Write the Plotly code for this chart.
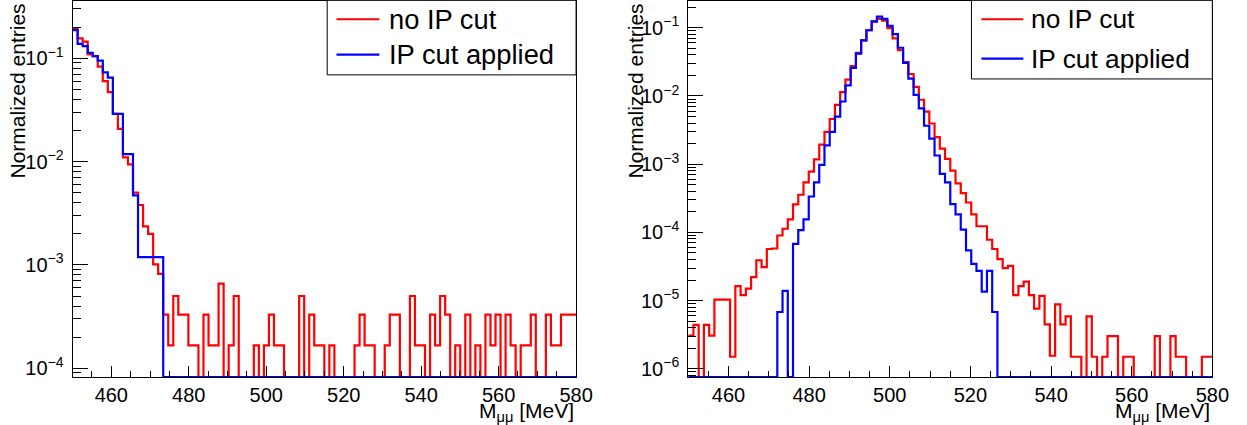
import numpy as np
import plotly.graph_objects as go

# ---------------- data ----------------
bin_lo, bin_hi, n_bins = 450.0, 580.0, 100

# Left panel: normalized entries per bin (100 bins, 450-580 MeV)
left_no_ip = [
    0.195, 0.156, 0.145, 0.109, 0.105, 0.083, 0.060, 0.047, 0.029, 0.0207,
    0.011, 0.0094, 0.005, 0.0038, 0.00236, 0.0020, 0.00101, 0.00082, 3.3e-4, 1.66e-4,
    5.0e-4, 3.3e-4, 3.3e-4, 1.66e-4, 1.66e-4, 0, 3.3e-4, 1.66e-4, 1.66e-4, 6.6e-4,
    0, 1.66e-4, 5.0e-4, 0, 0, 0, 1.66e-4, 0, 1.66e-4, 3.3e-4,
    1.66e-4, 1.66e-4, 0, 0, 0, 5.0e-4, 0, 3.3e-4, 1.66e-4, 1.66e-4,
    0, 1.66e-4, 0, 0, 0, 0, 1.66e-4, 3.3e-4, 1.66e-4, 1.66e-4,
    0, 0, 1.66e-4, 3.3e-4, 3.3e-4, 0, 0, 5.0e-4, 1.66e-4, 1.66e-4,
    0, 3.3e-4, 1.66e-4, 5.0e-4, 3.3e-4, 0, 1.66e-4, 0, 3.3e-4, 0,
    1.66e-4, 0, 3.3e-4, 1.66e-4, 3.3e-4, 0, 3.3e-4, 1.66e-4, 0, 1.66e-4,
    1.66e-4, 3.3e-4, 0, 0, 3.3e-4, 1.66e-4, 1.66e-4, 3.3e-4, 3.3e-4, 3.3e-4,
]
left_ip = [
    0.187, 0.138, 0.131, 0.113, 0.105, 0.095, 0.073, 0.065, 0.029, 0.029,
    0.0118, 0.0118, 0.0047, 0.00119, 0.00119, 0.00119, 0.00119, 0.00119, 0, 0,
] + [0] * 80

# Right panel
right_no_ip = [
    3.06e-6, 4.4e-6, 0, 4.4e-6, 3.06e-6, 1.03e-5, 1.03e-5, 1.03e-5, 1.5e-6, 1.63e-5,
    1.2e-5, 1.5e-5, 2.2e-5, 3.9e-5, 3.1e-5, 5.7e-5, 5.8e-5, 9.0e-5, 1.13e-4, 1.55e-4,
    2.58e-4, 3.56e-4, 5.4e-4, 7.8e-4, 1.18e-3, 1.93e-3, 2.98e-3, 4.6e-3, 7.4e-3, 0.0114,
    0.0174, 0.0274, 0.043, 0.0656, 0.092, 0.123, 0.135, 0.127, 0.099, 0.070,
    0.047, 0.0315, 0.021, 0.0136, 0.0088, 0.0059, 0.00395, 0.0025, 0.00169, 0.0012,
    8.05e-4, 5.24e-4, 3.76e-4, 2.74e-4, 1.84e-4, 1.23e-4, 1.23e-4, 7.8e-5, 5.7e-5, 4.05e-5,
    2.98e-5, 3.23e-5, 1.2e-5, 1.63e-5, 1.89e-5, 1.2e-5, 7.6e-6, 1.17e-5, 4.46e-6, 1.55e-6,
    8.8e-6, 4.46e-6, 5.86e-6, 1.5e-6, 1.5e-6, 0, 5.86e-6, 1.5e-6, 0, 1.5e-6,
    3.0e-6, 3.0e-6, 0, 1.5e-6, 1.5e-6, 0, 0, 0, 0, 3.0e-6,
    0, 0, 3.0e-6, 1.5e-6, 1.5e-6, 0, 0, 0, 1.5e-6, 1.5e-6,
]
right_ip = [
    0, 0, 0, 0, 0, 0, 0, 0, 0, 0,
    0, 0, 0, 0, 0, 0, 0, 6.8e-6, 1.39e-5, 0,
    6.8e-5, 1.08e-4, 1.55e-4, 3.36e-4, 5.4e-4, 9.8e-4, 1.89e-3, 2.98e-3, 4.97e-3, 8.3e-3,
    0.0143, 0.0258, 0.0417, 0.0656, 0.092, 0.124, 0.146, 0.135, 0.107, 0.081,
    0.051, 0.0306, 0.018, 0.0104, 6.6e-3, 3.66e-3, 2.37e-3, 1.34e-3, 7.2e-4, 5.4e-4,
    2.6e-4, 1.84e-4, 1.1e-4, 5.45e-5, 3.45e-5, 2.72e-5, 1.35e-5, 2.72e-5, 6.8e-6, 0,
] + [0] * 40

series_names = ["no IP cut", "IP cut applied"]
series_colors = ["#ff0000", "#0000ff"]

x_major = [460, 480, 500, 520, 540, 560, 580]
left_exps = [-4, -3, -2, -1]
right_exps = [-6, -5, -4, -3, -2, -1]
left_yrange = [-4.085, -0.446]
right_yrange = [-6.121, -0.607]

x_title = "M<sub>μμ</sub> [MeV]"
y_title = "Normalized entries"

FONT = "Liberation Sans, Arial, Helvetica, sans-serif"
TW = 1247.0               # target picture width
W, H = 1262, 430          # layout size (page is shown slightly scaled down)
K = W / TW
T = 53
PLOT_H = H - 1 - T


def px(x):                # target x pixel -> paper x
    return x / TW


def py(y):                # target y pixel -> paper y
    return 1 - (y * K - 1) / PLOT_H


# ---------------- figure ----------------
edges = np.linspace(bin_lo, bin_hi, n_bins + 1)


def step_xy(vals, floor):
    v = np.array(vals, dtype=float)
    v = np.where(v > 0, v, floor)
    return edges, np.append(v, v[-1])


fig = go.Figure()

panels = [
    ("x", "y", [left_no_ip, left_ip], left_yrange),
    ("x2", "y2", [right_no_ip, right_ip], right_yrange),
]
for xa, ya, series, yr in panels:
    floor = 10 ** yr[0]
    for vals, name, col in zip(series, series_names, series_colors):
        xs, ys = step_xy(vals, floor)
        fig.add_trace(go.Scatter(
            x=xs, y=ys, mode="lines", line=dict(color=col, width=2.2, shape="hv"),
            name=name, xaxis=xa, yaxis=ya, showlegend=False,
        ))

dom_left = [px(72.7), px(577.0)]
dom_right = [px(689.3), px(1214.3)]


def xaxis_cfg(dom, anchor):
    return dict(
        domain=dom, anchor=anchor, range=[bin_lo, bin_hi],
        tickmode="array", tickvals=x_major, ticktext=[str(v) for v in x_major],
        ticks="inside", ticklen=11, tickwidth=1, tickcolor="black",
        minor=dict(dtick=5, tick0=450, ticks="inside", ticklen=6, tickwidth=1, tickcolor="black"),
        showline=True, linecolor="black", linewidth=1, mirror=True,
        showgrid=False, zeroline=False,
        tickfont=dict(family=FONT, size=20, color="black"),
    )


def yaxis_cfg(exps, yr, anchor):
    majors = [10.0 ** e for e in exps]
    minors = [m * 10.0 ** e for e in range(exps[0] - 1, exps[-1] + 1) for m in range(2, 10)]
    return dict(
        domain=[0, 1], anchor=anchor, type="log", range=yr,
        tickmode="array", tickvals=majors,
        ticktext=["10<sup>\u2212%d</sup>" % (-e) for e in exps],
        ticks="inside", ticklen=15, tickwidth=1, tickcolor="black",
        minor=dict(tickmode="array", tickvals=minors, ticks="inside", ticklen=8,
                   tickwidth=1, tickcolor="black"),
        showline=True, linecolor="black", linewidth=1, mirror=True,
        showgrid=False, zeroline=False,
        tickfont=dict(family=FONT, size=20, color="black"),
        ticklabelstandoff=4,
    )


fig.update_layout(
    width=W, height=H, autosize=False,
    margin=dict(l=0, r=0, t=1, b=T),
    paper_bgcolor="white", plot_bgcolor="white",
    xaxis=xaxis_cfg(dom_left, "y"),
    yaxis=yaxis_cfg(left_exps, left_yrange, "x"),
    xaxis2=xaxis_cfg(dom_right, "y2"),
    yaxis2=yaxis_cfg(right_exps, right_yrange, "x2"),
    showlegend=False,
    font=dict(family=FONT, color="black"),
)

# ROOT-style legend boxes (box, line samples, labels) in paper coordinates
legend_boxes = [
    # box left, box right, box bottom, sample x0, x1, text x, row ys, font
    dict(bl=327.7, br=577.0, bb=74.0, s0=337.0, s1=380.0, tx=388.0, rows=[19.0, 54.0], fs=27.0),
    dict(bl=973.0, br=1214.3, bb=78.0, s0=983.0, s1=1025.0, tx=1031.0, rows=[19.0, 58.0], fs=26.0),
]
shapes = []
ann = []
for lb in legend_boxes:
    shapes.append(dict(
        type="rect", xref="paper", yref="paper",
        x0=px(lb["bl"]), x1=px(lb["br"]), y0=py(lb["bb"]), y1=py(0.3),
        line=dict(color="black", width=1), fillcolor="white", layer="above",
    ))
    for name, col, ry in zip(series_names, series_colors, lb["rows"]):
        shapes.append(dict(
            type="line", xref="paper", yref="paper",
            x0=px(lb["s0"]), x1=px(lb["s1"]), y0=py(ry), y1=py(ry),
            line=dict(color=col, width=2.2), layer="above",
        ))
        ann.append(dict(
            text=name, xref="paper", yref="paper", x=px(lb["tx"]), y=py(ry),
            xanchor="left", yanchor="middle", showarrow=False,
            font=dict(family=FONT, size=lb["fs"] * K, color="black"),
        ))

for dom, ytx in [(dom_left, px(18.0)), (dom_right, px(637.0))]:
    ann.append(dict(
        text=x_title, xref="paper", yref="paper", x=dom[1], y=0,
        xanchor="right", yanchor="top", yshift=-20, showarrow=False,
        font=dict(family=FONT, size=21, color="black"),
    ))
    ann.append(dict(
        text=y_title, xref="paper", yref="paper", x=ytx, y=1,
        xanchor="center", yanchor="top", textangle=-90, showarrow=False,
        font=dict(family=FONT, size=21, color="black"),
    ))
fig.update_layout(shapes=shapes, annotations=ann)

fig.write_html("out.html", config={"responsive": False})
